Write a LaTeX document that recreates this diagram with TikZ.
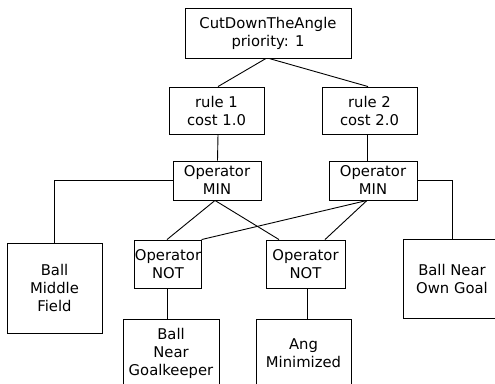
\documentclass[tikz,border=0pt]{standalone}
\usepackage{fontspec}
\setmainfont{DejaVu Sans}
\begin{document}
\begin{tikzpicture}[x=1pt,y=-1pt,
  box/.style={draw, line width=0.9pt, inner sep=0pt, align=center,
    font=\fontsize{14.8}{18}\selectfont},
  openbox/.style={box, draw=none},
  link/.style={line width=0.9pt}]
\useasboundingbox (0,0) rectangle (495,383);
% goal
\node[box, minimum width=166, minimum height=50] (top) at (268,33) {CutDownTheAngle\\priority: 1};
% rules
\node[box, minimum width=95, minimum height=47] (r1) at (216.5,110.5) {rule 1\\cost 1.0};
\node[box, minimum width=95, minimum height=47] (r2) at (369.5,110.5) {rule 2\\cost 2.0};
% MIN operators
\node[box, minimum width=88, minimum height=39] (min1) at (217,180.5) {Operator\\MIN};
\node[box, minimum width=88, minimum height=39] (min2) at (373,180.5) {Operator\\MIN};
% leaves and NOT operators
\node[box, minimum width=95, minimum height=90] (bmf) at (54.5,288) {Ball\\Middle\\Field};
\node[openbox, minimum width=96, minimum height=78] (bnog) at (452,279) {Ball Near\\Own Goal};
\draw[link] (bnog.north east) -- (bnog.north west) -- (bnog.south west) -- (bnog.south east);
\node[box, minimum width=66, minimum height=48] (not1) at (168,264) {Operator\\NOT};
\node[box, minimum width=79, minimum height=48] (not2) at (305.5,264) {Operator\\NOT};
\node[box, minimum width=96, minimum height=68] (bng) at (171,353) {Ball\\Near\\Goalkeeper};
\node[box, minimum width=95, minimum height=68] (am) at (303.5,353) {Ang\\Minimized};
% connectors
\draw[link] ([xshift=-2]top.south) -- ([xshift=1.5]r1.north);
\draw[link] ([xshift=1]top.south) -- ([xshift=-1.5]r2.north);
\draw[link] ([xshift=1.5]r1.south) -- ([xshift=0.5]min1.north);
\draw[link] ([xshift=-2.5]r2.south) -- ([xshift=-6]min2.north);
\draw[link] (min1.west) -| (bmf.north);
\draw[link] (min2.east) -| (bnog.north);
\draw[link] ([xshift=-2]min1.south) -- ([xshift=-1]not1.north);
\draw[link] ([xshift=-2]min1.south) -- ([xshift=-26.5]not2.north);
\draw[link] ([xshift=-6]min2.south) -- (not1.north east);
\draw[link] ([xshift=-6]min2.south) -- ([xshift=19.5]not2.north);
\draw[link] ([xshift=-1]not1.south) -- ([xshift=-4]bng.north);
\draw[link] ([xshift=1.5]not2.south) -- ([xshift=3.5]am.north);
\end{tikzpicture}
\end{document}
